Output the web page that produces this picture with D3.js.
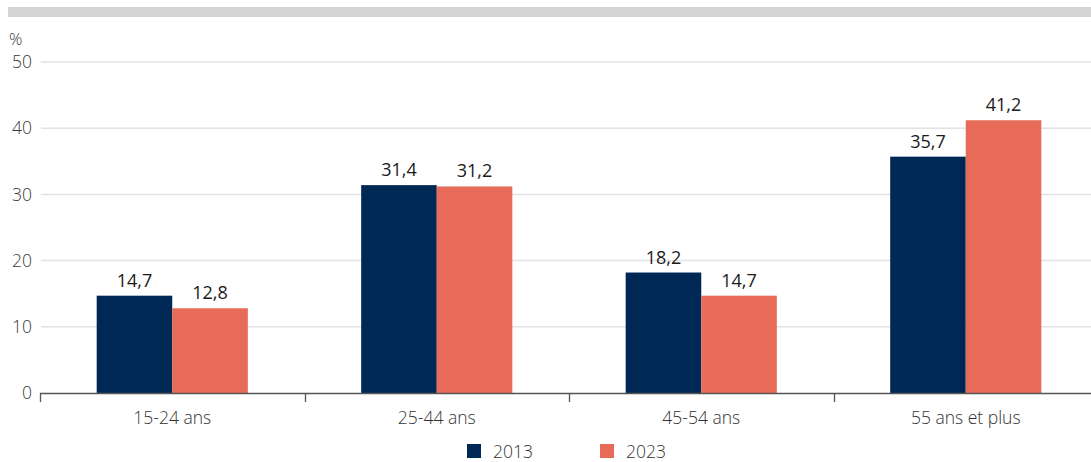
<!DOCTYPE html>
<html><head><meta charset="utf-8">
<script src="https://cdn.jsdelivr.net/npm/d3@7"></script>
<style>body{margin:0;background:#fff}svg{display:block;font-family:"Open Sans",sans-serif}</style>
</head><body><svg id="c" width="1091" height="462"></svg>
<script>
const categories = ["15-24 ans","25-44 ans","45-54 ans","55 ans et plus"];
const seriesNames = ["2013","2023"];
const values2013 = [14.7,31.4,18.2,35.7];
const values2023 = [12.8,31.2,14.7,41.2];
const yTicks = [0,10,20,30,40,50];
const colors = ["#002855","#E86A58"];

const svg = d3.select("#c");
const W = 1091;
svg.append("rect").attr("x",8).attr("y",7).attr("width",W-8).attr("height",10).attr("fill","#d4d4d4");

const x = d3.scaleBand().domain(categories).range([40,1098]).paddingInner(0).paddingOuter(0);
const x1 = d3.scaleBand().domain(seriesNames).range([0,x.bandwidth()]).paddingInner(0).paddingOuter(0.75);
const y = d3.scaleLinear().domain([0,50]).range([393,62]);

// grid
svg.append("g").selectAll("line").data(yTicks.filter(d=>d>0)).join("line")
  .attr("x1",41).attr("x2",W).attr("y1",d=>y(d)).attr("y2",d=>y(d))
  .attr("stroke","#e3e3e3").attr("stroke-width",1.5);
// y labels
svg.append("g").selectAll("text").data(yTicks).join("text")
  .attr("x",32).attr("y",d=>y(d)).attr("dy","0.35em").attr("text-anchor","end")
  .attr("font-size",17.5).attr("font-weight",300).attr("fill","#3a3a3a").text(d=>d);
svg.append("text").attr("x",9).attr("y",45).attr("font-size",16.5).attr("font-weight",300).attr("fill","#3a3a3a").text("%");

const data = categories.map((c,i)=>({c, vals:[values2013[i],values2023[i]]}));
const g = svg.append("g").selectAll("g").data(data).join("g").attr("transform",d=>`translate(${x(d.c)},0)`);
g.selectAll("rect").data(d=>d.vals.map((v,i)=>({s:seriesNames[i],v,i}))).join("rect")
  .attr("x",d=>x1(d.s)).attr("width",x1.bandwidth()).attr("y",d=>y(d.v)).attr("height",d=>y(0)-y(d.v))
  .attr("fill",d=>colors[d.i]);
g.selectAll("text").data(d=>d.vals.map((v,i)=>({s:seriesNames[i],v,i}))).join("text")
  .attr("x",d=>x1(d.s)+x1.bandwidth()/2).attr("y",d=>y(d.v)-9).attr("text-anchor","middle")
  .attr("font-size",18).attr("fill","#1a1a1a").text(d=>d3.format(".1f")(d.v).replace(".",","));

// x axis
const ax = svg.append("g");
ax.append("line").attr("x1",40).attr("x2",W).attr("y1",393.5).attr("y2",393.5).attr("stroke","#555").attr("stroke-width",1.3);
ax.selectAll("line.t").data(categories).join("line").attr("class","t")
  .attr("x1",d=>Math.round(x(d))+0.5).attr("x2",d=>Math.round(x(d))+0.5).attr("y1",393).attr("y2",402)
  .attr("stroke","#555").attr("stroke-width",1.3);
ax.selectAll("text").data(categories).join("text")
  .attr("x",d=>x(d)+x.bandwidth()/2).attr("y",424).attr("text-anchor","middle")
  .attr("font-size",17.5).attr("font-weight",300).attr("fill","#333").text(d=>d);

// legend
const lg = svg.append("g");
const lx = [467,600];
seriesNames.forEach((s,i)=>{
  lg.append("rect").attr("x",lx[i]).attr("y",444).attr("width",14).attr("height",14).attr("fill",colors[i]);
  lg.append("text").attr("x",lx[i]+26).attr("y",458).attr("font-size",17.5).attr("font-weight",300).attr("fill","#333").text(s);
});
</script></body></html>
